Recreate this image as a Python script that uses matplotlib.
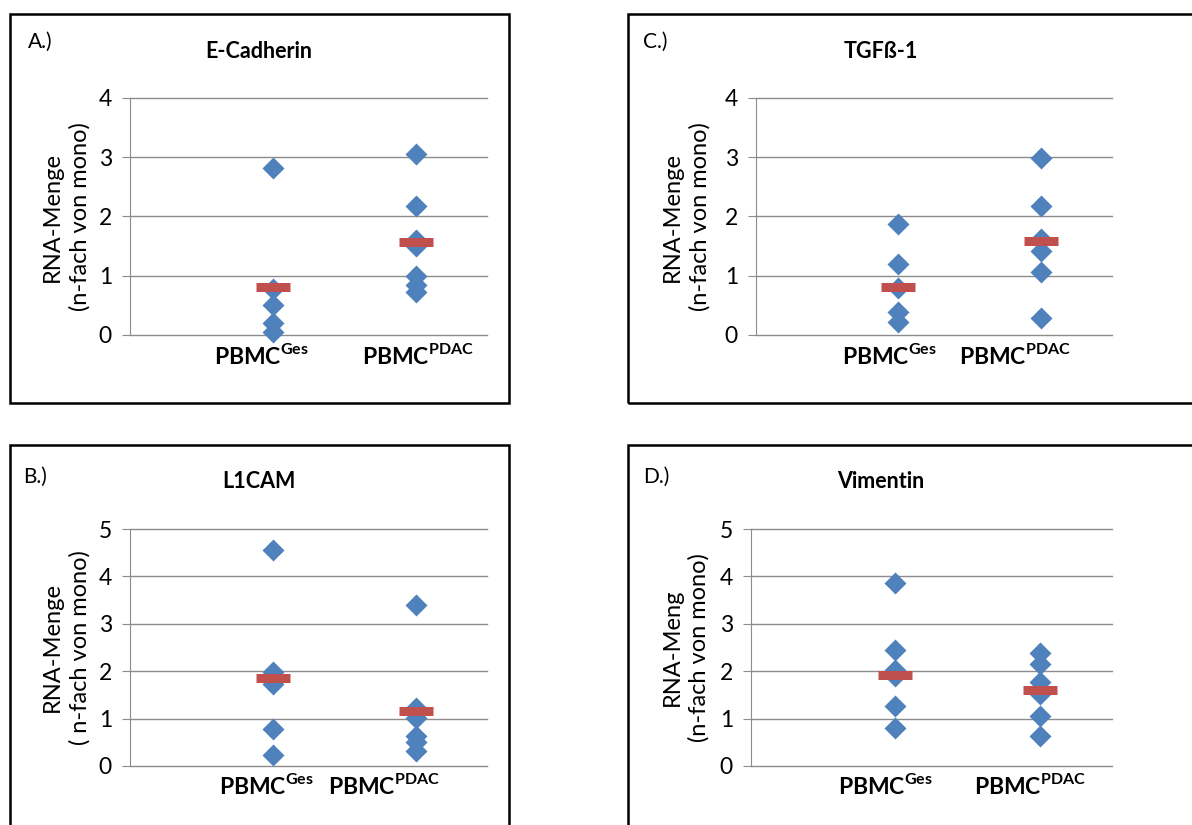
import matplotlib
matplotlib.use("Agg")
import matplotlib.pyplot as plt
from matplotlib.patches import Rectangle

plt.rcParams["font.family"] = ["Lato", "DejaVu Sans"]
plt.rcParams["mathtext.fontset"] = "custom"
plt.rcParams["mathtext.bf"] = "Lato:bold"
plt.rcParams["mathtext.rm"] = "Lato"

# Werte
kategorien = [1, 2]
kat_labels = [r"$\mathbf{PBMC}^{\mathbf{Ges}}$", r"$\mathbf{PBMC}^{\mathbf{PDAC}}$"]

ecad_ges = [2.82, 0.78, 0.51, 0.21, 0.05]
ecad_pdac = [3.05, 2.17, 1.60, 1.50, 1.00, 0.85, 0.73]
ecad_mitte = [0.81, 1.57]

tgf_ges = [1.87, 1.19, 0.80, 0.39, 0.22]
tgf_pdac = [2.99, 2.18, 1.62, 1.42, 1.06, 0.29]
tgf_mitte = [0.81, 1.59]

l1cam_ges = [4.55, 1.98, 1.74, 0.79, 0.23]
l1cam_pdac = [3.40, 1.22, 1.01, 0.63, 0.51, 0.31]
l1cam_mitte = [1.86, 1.16]

vim_ges = [3.87, 2.44, 2.02, 1.90, 1.27, 0.81]
vim_pdac = [2.38, 2.15, 1.77, 1.52, 1.05, 0.63]
vim_mitte = [1.93, 1.60]

W, H = 1192, 825
blau = "#4F81BD"
rot = "#C0504D"
grau = "#8C8C8C"

fig = plt.figure(figsize=(W / 100, H / 100), dpi=100)


def fx(px):
    return px / W


def fy(py):
    return 1 - py / H


def panel(box, achse, ymax, ges, pdac, mitte, buchstabe, titel, ylab, buch_pos,
          titel_pos, ylab_x, lab_pos):
    # Rahmen
    x0, y0, x1, y1 = box
    fig.patches.append(Rectangle((fx(x0), fy(y1)), fx(x1 - x0), (y1 - y0) / H,
                                 transform=fig.transFigure, fill=False,
                                 edgecolor="black", lw=1.8))
    l, r, t, b = achse
    ax = fig.add_axes([fx(l), fy(b), fx(r - l), (b - t) / H])
    ax.set_xlim(0, 2.5)
    ax.set_ylim(0, ymax)
    ax.set_yticks(range(ymax + 1))
    ax.set_xticks([])
    for s in ["top", "right", "bottom"]:
        ax.spines[s].set_visible(False)
    ax.spines["left"].set_color(grau)
    ax.yaxis.grid(True, color=grau, lw=1)
    ax.set_axisbelow(True)
    ax.tick_params(axis="y", length=6, color=grau, labelsize=16.5, pad=7)
    for gl in ax.get_ygridlines():
        gl.set_clip_on(False)

    ax.plot([kategorien[0]] * len(ges), ges, "D", color=blau, ms=10.8,
            mec="none", zorder=3, clip_on=False)
    ax.plot([kategorien[1]] * len(pdac), pdac, "D", color=blau, ms=10.8,
            mec="none", zorder=3, clip_on=False)
    ax.plot(kategorien, mitte, "_", color=rot, ms=24, mew=6.5, zorder=4,
            linestyle="none")

    fig.text(fx(buch_pos[0]), fy(buch_pos[1]), buchstabe, fontsize=15,
             ha="left", va="center")
    fig.text(fx(titel_pos[0]), fy(titel_pos[1]), titel, fontsize=15.5,
             fontweight="bold", ha="center", va="center")
    mitte_y = fy((t + b) / 2)
    fig.text(fx(ylab_x[0]), mitte_y, ylab[0], fontsize=17, rotation=90,
             ha="center", va="center")
    fig.text(fx(ylab_x[1]), mitte_y, ylab[1], fontsize=17, rotation=90,
             ha="center", va="center")
    for lx, txt in zip(lab_pos[0], kat_labels):
        fig.text(fx(lx), fy(lab_pos[1]), txt, fontsize=16.5, ha="center",
                 va="center")
    return ax


panel((10, 14, 509, 403), (130, 487, 98, 335), 4, ecad_ges, ecad_pdac,
      ecad_mitte, "A.)", "E-Cadherin", ["RNA-Menge", "(n-fach von mono)"],
      (28, 42), (259, 51), (52, 80), ((261, 418), 355))

panel((628, 14, 1200, 403), (756, 1112, 98, 335), 4, tgf_ges, tgf_pdac,
      tgf_mitte, "C.)", "TGFß-1", ["RNA-Menge", "(n-fach von mono)"],
      (643, 42), (881, 51), (672, 700), ((889, 1015), 355))

panel((10, 445, 509, 840), (130, 487, 529, 766), 5, l1cam_ges, l1cam_pdac,
      l1cam_mitte, "B.)", "L1CAM", ["RNA-Menge", "( n-fach von mono)"],
      (23, 477), (259, 482), (52, 80), ((266, 384), 785))

panel((628, 445, 1200, 840), (751, 1112, 529, 766), 5, vim_ges, vim_pdac,
      vim_mitte, "D.)", "Vimentin", ["RNA-Meng", "(n-fach von mono)"],
      (643, 477), (881, 482), (672, 699), ((885, 1030), 785))

fig.savefig("out.png", dpi=100)
